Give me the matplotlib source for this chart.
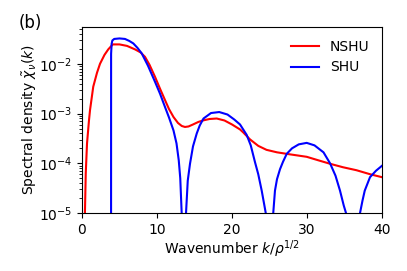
import numpy as np
import matplotlib.pyplot as plt

# NSHU curve (k, log10 value)
k_nshu = [0.35, 0.5, 0.67, 0.93, 1.07, 1.5, 2.0, 2.4, 3.0, 3.5, 4.1, 5.0, 6.0, 7.07, 7.8,
          8.4, 9.0, 9.73, 10.4, 11.07, 11.6, 12.2, 12.8, 13.3, 13.73, 14.2, 14.8, 15.5,
          16.1, 17.0, 17.96, 19.0, 20.0, 21.07, 21.5, 22.4, 23.5, 24.6, 26.0, 27.7, 29.96,
          31.5, 33.07, 34.8, 36.6, 38.4, 40.0]
log_nshu = [-5.3, -4.2, -3.6, -3.14, -2.93, -2.46, -2.18, -2.0, -1.82, -1.71, -1.61, -1.61,
            -1.64, -1.71, -1.77, -1.86, -2.02, -2.26, -2.5, -2.73, -2.91, -3.07, -3.19,
            -3.25, -3.27, -3.26, -3.22, -3.17, -3.14, -3.11, -3.10, -3.14, -3.22, -3.32,
            -3.38, -3.52, -3.65, -3.73, -3.78, -3.82, -3.87, -3.94, -4.01, -4.08, -4.14,
            -4.22, -4.28]

# SHU curve, values far below the axis mark its zeros
k_shu = [3.87, 3.88, 3.95, 4.05, 4.3, 5.0, 5.73, 6.3, 6.84, 7.4, 7.96, 8.8, 9.73, 10.4,
         11.07, 11.6, 12.2, 12.6, 12.9, 13.1, 13.29, 13.58, 13.87, 14.1, 14.4, 14.8, 15.3,
         15.7, 16.2, 17.2, 18.3, 19.4, 20.3, 21.07, 21.96, 22.5, 23.07, 23.5, 23.96, 24.5,
         25.0, 25.5, 25.73, 26.0, 26.4, 26.8, 27.3, 28.0, 28.9, 29.96, 31.0, 32.2, 33.07,
         33.8, 34.4, 34.9, 35.2, 36.15, 37.07, 37.4, 37.7, 38.4, 39.2, 40.0]
log_shu = [-9.0, -1.8, -1.6, -1.53, -1.50, -1.49, -1.50, -1.54, -1.59, -1.68, -1.79,
           -2.04, -2.36, -2.6, -2.87, -3.08, -3.34, -3.6, -3.94, -4.3, -5.0, -9.0, -5.0,
           -4.35, -4.01, -3.66, -3.40, -3.24, -3.10, -2.99, -2.97, -3.02, -3.12, -3.22,
           -3.43, -3.64, -3.98, -4.22, -4.55, -5.0, -9.0, -5.0, -4.55, -4.32, -4.12,
           -3.97, -3.81, -3.7, -3.62, -3.59, -3.64, -3.78, -4.0, -4.25, -4.55, -4.85, -5.0,
           -9.0, -5.0, -4.75, -4.55, -4.28, -4.15, -4.05]

fig = plt.figure(figsize=(4.07, 2.71), dpi=100)
ax = fig.add_axes([82 / 407, 1 - 213 / 271, 300 / 407, 186 / 271])

ax.plot(k_nshu, 10 ** np.array(log_nshu), color='red', lw=1.5, label='NSHU')
ax.plot(k_shu, 10 ** np.array(log_shu), color='blue', lw=1.5, label='SHU')

ax.set_yscale('log')
ax.set_xlim(0, 40)
ax.set_ylim(1e-5, 10 ** -1.26)
ax.set_xticks([0, 10, 20, 30, 40])
ax.tick_params(labelsize=10)
ax.set_xlabel(r'Wavenumber $k/\rho^{1/2}$', fontsize=10, labelpad=1)
ax.set_ylabel(r'Spectral density $\tilde{\chi}_\nu(k)$', fontsize=10, labelpad=0)
ax.legend(frameon=False, fontsize=10, loc='upper right')
fig.text(30 / 407, 1 - 23.5 / 271, '(b)', fontsize=12, ha='center', va='center')

fig.savefig('out.png', dpi=100)
